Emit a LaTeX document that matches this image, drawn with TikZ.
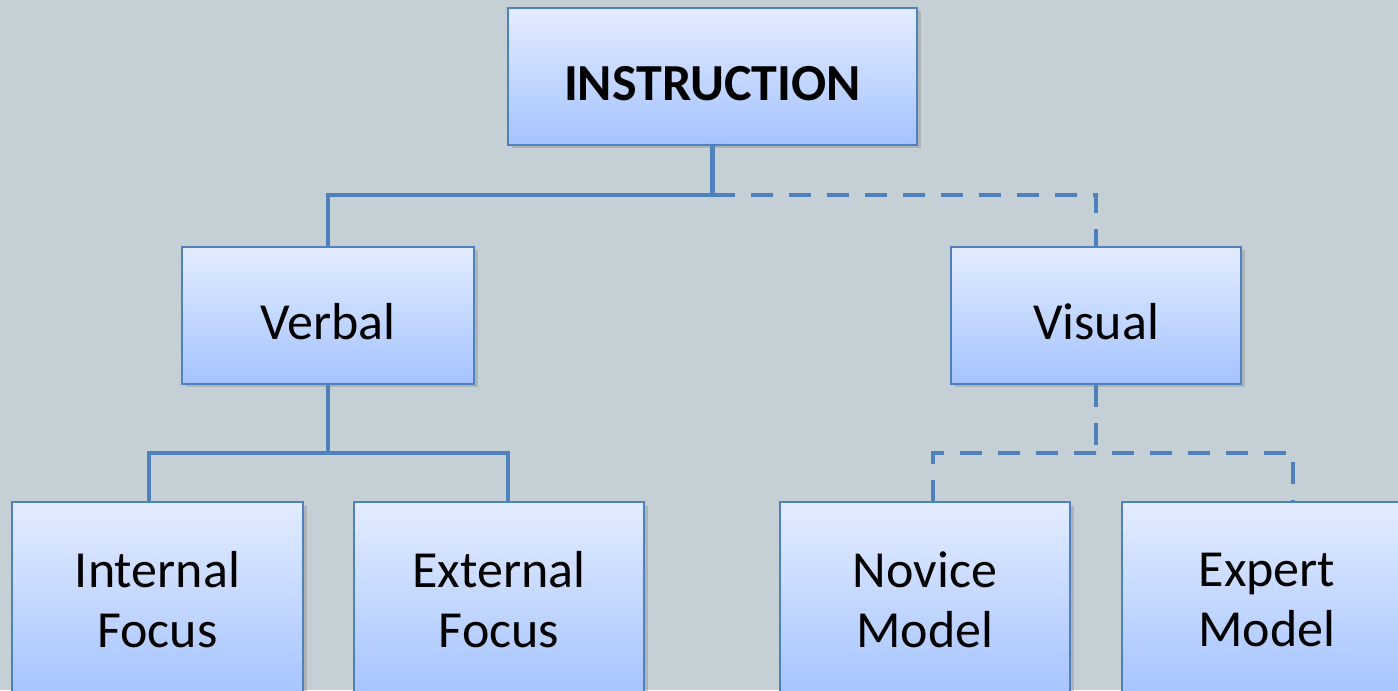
\documentclass[tikz,border=0pt]{standalone}
\usepackage{fontspec}
\setmainfont{Carlito}
\usepackage{xcolor}
\usetikzlibrary{shadows, positioning, calc}

\definecolor{bgcol}{HTML}{C5D0D6}
\definecolor{edgecol}{HTML}{4F81BD}
\definecolor{boxtop}{HTML}{E3ECFF}
\definecolor{boxbot}{HTML}{A5C3FF}

\tikzset{
	box/.style={rectangle, draw=edgecol, line width=0.8pt, top color=boxtop, bottom color=boxbot,
		align=center, minimum height=1.37cm, font=\fontsize{14.8}{17}\selectfont,
		drop shadow={shadow xshift=0.035cm, shadow yshift=-0.035cm, opacity=0.35}},
	onebox/.style={box, text height=0.48cm, text depth=0pt},
	twobox/.style={box, minimum width=2.90cm, minimum height=1.96cm},
	link/.style={draw=edgecol, line width=1.4pt},
	dlink/.style={link, dash pattern=on 0.22cm off 0.16cm}
}

\begin{document}
\begin{tikzpicture}
			% Background and page size
			\fill[bgcol] (0,0) rectangle (13.98,6.90);
			\useasboundingbox (0,0) rectangle (13.98,6.90);
	
			% Node for the top
			\node[onebox, minimum width=4.09cm, font=\fontsize{14.8}{17}\selectfont\bfseries] (instr) at (7.125,6.135) {INSTRUCTION};
	
			% Nodes for level 1
			\node[onebox, minimum width=2.92cm] (verbal) at (3.28,3.745) {Verbal};
			\node[onebox, minimum width=2.90cm] (visual) at (10.96,3.745) {Visual};
	
			% Nodes for level 2
			\node[twobox, minimum width=2.91cm] (internal) at (1.575,0.90) {Internal\\Focus};
			\node[twobox] (external) at (4.99,0.90) {External\\Focus};
			\node[twobox] (novice) at (9.25,0.90) {Novice\\Model};
			\node[twobox] (expert) at (12.67,0.90) {Expert\\Model};
	
			% Junction points
			\coordinate (split0) at (7.125,4.95);
			\coordinate (split1) at (3.28,2.37);
			\coordinate (split2) at (10.96,2.37);
			\coordinate (internal-in) at (1.49,1.88);
			\coordinate (external-in) at (5.08,1.88);
			\coordinate (novice-in) at (9.33,1.88);
			\coordinate (expert-in) at (12.93,1.88);
	
			% Edges for level 0 to level 1
			\draw[link] (instr.south) -- (split0) -| (verbal.north);
			\draw[dlink] (split0) -| (visual.north);
	
			% Edges for level 1 to level 2
			\draw[link] (verbal.south) -- (split1);
			\draw[link] (internal-in) |- (split1) -| (external-in);
			\draw[dlink] (visual.south) -- (split2);
			\draw[dlink] (novice-in) |- (split2) -| (expert-in);
		\end{tikzpicture}
\end{document}
